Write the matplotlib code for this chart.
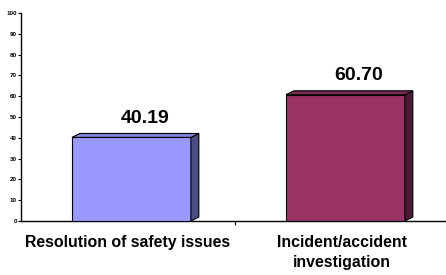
import matplotlib.pyplot as plt
from matplotlib.patches import Polygon

categories = ["Resolution of safety issues", "Incident/accident\ninvestigation"]
values = [40.19, 60.70]
value_labels = ["40.19", "60.70"]
y_ticks = [0, 10, 20, 30, 40, 50, 60, 70, 80, 90, 100]

front_colors = ["#9999FF", "#993366"]
top_colors = ["#7F7FD9", "#7A2950"]
side_colors = ["#4D4D85", "#4D1A36"]

plt.rcParams["font.family"] = ["Liberation Sans", "DejaVu Sans"]

fig = plt.figure(figsize=(4.46, 2.75), dpi=100, facecolor="white")
ax = fig.add_axes([21 / 446, 1 - 221 / 275, 428 / 446, 208 / 275])
ax.set_xlim(-0.5, 1.5)
ax.set_ylim(0, 100)

width = 0.556
dx, dy = 0.037, 1.9
for i, v in enumerate(values):
    x0 = i + 0.016 - width / 2
    x1 = x0 + width
    ax.bar(x0, v, width=width, align="edge", color=front_colors[i],
           edgecolor="black", linewidth=0.8, zorder=3)
    ax.add_patch(Polygon([(x1, 0), (x1 + dx, dy), (x1 + dx, v + dy), (x1, v)],
                         closed=True, facecolor=side_colors[i], edgecolor="black",
                         linewidth=0.8, zorder=3))
    ax.add_patch(Polygon([(x0, v), (x0 + dx, v + dy), (x1 + dx, v + dy), (x1, v)],
                         closed=True, facecolor=top_colors[i], edgecolor="black",
                         linewidth=0.8, zorder=3))
    ax.text(i + 0.08, v + 5, value_labels[i], ha="center", va="bottom",
            fontsize=14, fontweight="bold")

ax.spines["top"].set_visible(False)
ax.spines["right"].set_visible(False)
ax.spines["left"].set_linewidth(1.0)
ax.spines["bottom"].set_linewidth(1.0)

ax.set_yticks(y_ticks)
ax.set_yticklabels([str(t) for t in y_ticks], fontsize=4.5, fontweight="bold")
ax.tick_params(axis="y", length=2.5, width=0.8, pad=0.5)

ax.set_xticks([0, 1])
ax.set_xticklabels(categories, fontsize=11.4, fontweight="bold", linespacing=1.45)
ax.set_xticks([0.5], minor=True)
ax.tick_params(axis="x", which="major", length=0, pad=10)
ax.tick_params(axis="x", which="minor", length=3, width=0.8)

fig.savefig("out.png", dpi=100, facecolor="white")
